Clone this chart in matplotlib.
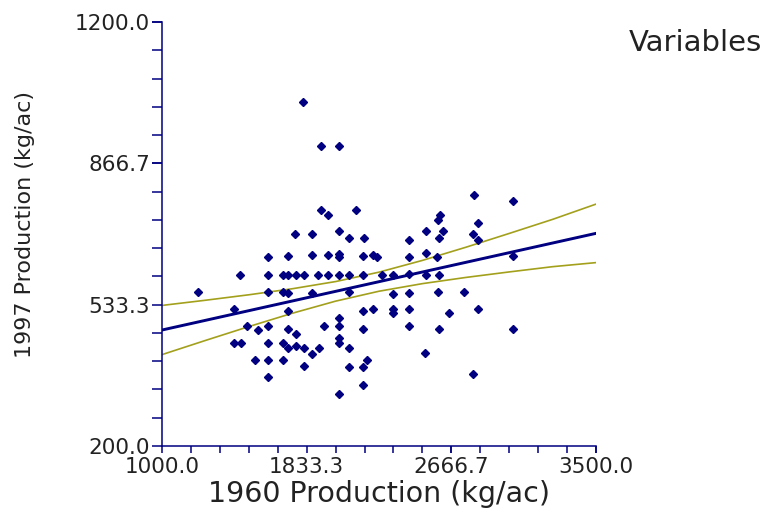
import numpy as np
import matplotlib
matplotlib.use("Agg")
from matplotlib import pyplot
from matplotlib.ticker import AutoMinorLocator, FixedLocator, FormatStrFormatter

# 1960 vs 1997 production (kg/ac)
prod_1960 = [1814, 1916, 2018, 1916, 1958, 2118, 1766, 1862, 2018, 2075, 2164,
             1612, 1728, 1862, 1955, 2018, 2018, 2160, 2217, 2237,
             1449, 1612, 1699, 1728, 1772, 1818, 1900, 1955, 2018, 2079, 2160,
             1209, 1612, 1699, 1728, 1862, 2079, 1415, 1728, 2160, 2217, 2018,
             1491, 1555, 1612, 1728, 1772, 1933, 2018, 2160,
             1415, 1453, 1612, 1695, 1728, 1772, 1818, 1906, 1862, 2018, 2018, 2079,
             1536, 1612, 1695, 1818, 2079, 2160, 2179, 1612, 2160, 2018,
             2797, 3024, 2601, 2592, 2822, 2521, 2620, 2793, 2596, 2822, 2423,
             2521, 2423, 2582, 3024, 2266, 2329, 2425, 2521, 2596,
             2329, 2425, 2592, 2741, 2332, 2329, 2423, 2655, 2822,
             2423, 2596, 3024, 2515, 2793]
prod_1997 = [1011, 908, 908, 757, 745, 757, 699, 699, 707, 691, 691,
             646, 648, 651, 651, 654, 645, 648, 651, 646,
             604, 604, 604, 604, 604, 604, 604, 604, 604, 604, 604,
             564, 564, 564, 562, 560, 564, 523, 518, 519, 523, 503,
             483, 474, 483, 475, 464, 483, 483, 475,
             442, 442, 442, 442, 430, 436, 432, 432, 417, 454, 442, 432,
             403, 403, 403, 389, 387, 387, 403, 363, 344, 322,
             792, 779, 745, 733, 727, 708, 707, 699, 691, 686, 686,
             656, 645, 646, 648, 603, 603, 605, 603, 603,
             558, 562, 564, 564, 523, 513, 522, 513, 523,
             483, 475, 475, 419, 371]

# regression line and confidence limits, read at steps of 250
fit_x = [1000, 1250, 1500, 1750, 2000, 2250, 2500, 2750, 3000, 3250, 3500]
fit_y = [473.6, 496.4, 519.2, 542.0, 564.8, 587.6, 610.4, 633.2, 656.0, 678.8, 701.6]
upper_y = [531.6, 543.8, 556.7, 570.9, 587.9, 610.1, 637.8, 668.8, 701.4, 734.6, 770.6]
lower_y = [415.6, 449.0, 481.7, 513.1, 541.7, 565.1, 583.0, 597.6, 610.6, 623.0, 632.6]

x_ticks = [1000.0, 1833.3, 2666.7, 3500.0]
y_ticks = [200.0, 533.3, 866.7, 1200.0]

navy = "#000080"
olive = "#a3a01c"
text_grey = "#222222"

pyplot.rcParams["font.family"] = "DejaVu Sans"
fig = pyplot.figure(figsize=[7.69, 5.17], dpi=100)
ax = fig.add_axes([0.2107, 0.1373, 0.5644, 0.8201])

ax.plot(fit_x, upper_y, color=olive, lw=1.2, zorder=2)
ax.plot(fit_x, lower_y, color=olive, lw=1.2, zorder=2)
ax.plot(fit_x, fit_y, color=navy, lw=2.1, zorder=3)
ax.plot(prod_1960, prod_1997, ls="none", marker="D", ms=3.9,
        color=navy, mec=navy, zorder=4)

ax.set_xlim(1000, 3500)
ax.set_ylim(200, 1200)
ax.xaxis.set_major_locator(FixedLocator(x_ticks))
ax.yaxis.set_major_locator(FixedLocator(y_ticks))
ax.xaxis.set_major_formatter(FormatStrFormatter("%.1f"))
ax.yaxis.set_major_formatter(FormatStrFormatter("%.1f"))
ax.xaxis.set_minor_locator(AutoMinorLocator(5))
ax.yaxis.set_minor_locator(AutoMinorLocator(5))

for side in ["top", "right"]:
    ax.spines[side].set_visible(False)
for side in ["left", "bottom"]:
    ax.spines[side].set_color(navy)
    ax.spines[side].set_linewidth(1.1)

ax.tick_params(axis="x", which="both", length=5, width=1.1, color=navy,
               labelsize=15.5, labelcolor=text_grey, pad=3)
ax.tick_params(axis="y", which="both", length=7, width=1.1, color=navy,
               labelsize=15.5, labelcolor=text_grey, pad=1.5)

ax.set_xlabel("1960 Production (kg/ac)", fontsize=20.5, color=text_grey, labelpad=2)
ax.set_ylabel("1997 Production (kg/ac)", fontsize=16, color=text_grey)
ax.yaxis.set_label_coords(-0.293, 0.522)

fig.text(0.818, 0.917, "Variables", fontsize=21, color=text_grey,
         ha="left", va="center")

fig.savefig("out.png", dpi=100)
